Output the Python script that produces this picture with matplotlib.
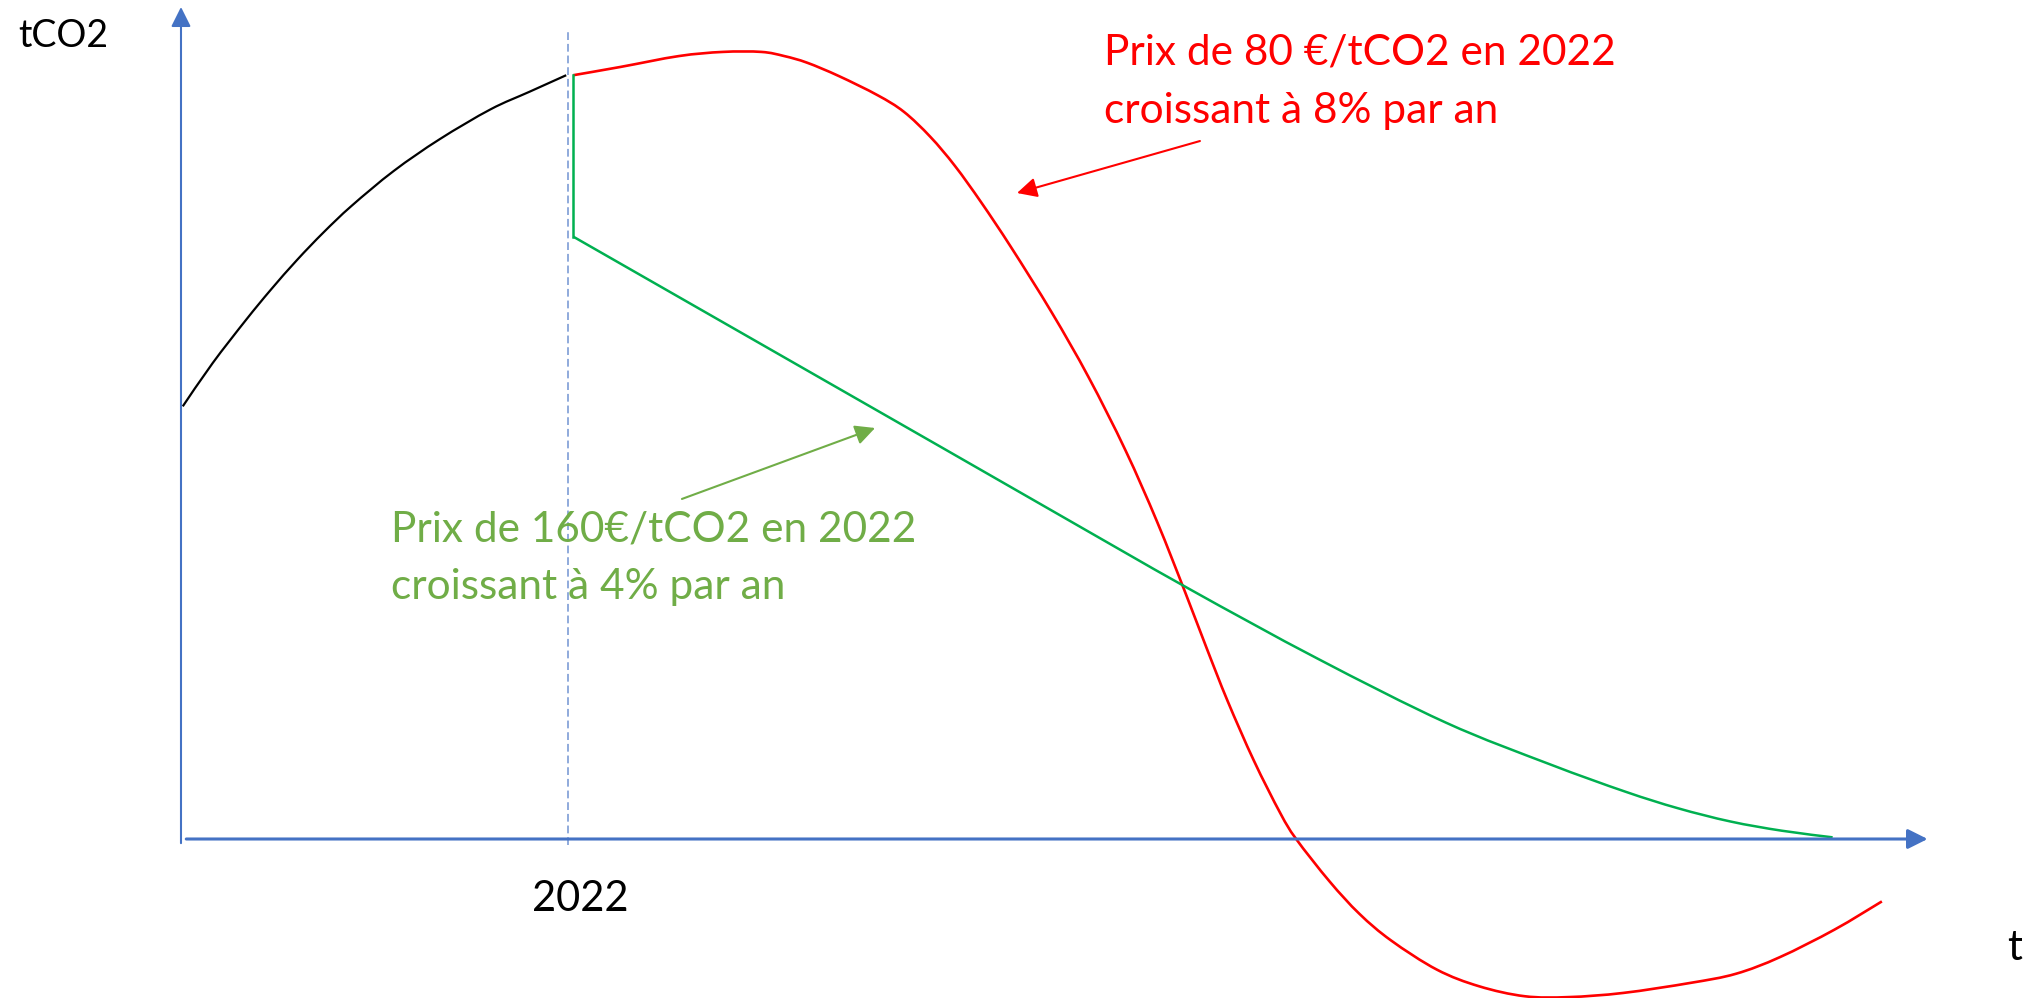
import matplotlib.pyplot as plt
from matplotlib.path import Path
from matplotlib.patches import PathPatch

plt.rcParams['font.family'] = ['Lato', 'DejaVu Sans']

# Emissions historiques jusqu'en 2022
hist_years = [2000.1, 2001.8, 2003.7, 2005.1, 2006.6, 2008.1, 2009.7, 2012.1,
              2014.7, 2017.6, 2019.8, 2021.9]
hist_co2 = [52.0, 57.2, 62.4, 66.0, 69.6, 72.9, 76.1, 80.3,
            84.1, 87.7, 89.8, 91.8]

# Scenario 80 EUR/tCO2, +8 %/an
red_years = [2022.3, 2025.0, 2028.3, 2030.8, 2033.0, 2034.3, 2035.6, 2037.4,
             2039.6, 2041.1, 2042.6, 2044.0, 2045.5, 2047.2, 2049.5, 2051.6,
             2053.7, 2055.5, 2057.1, 2058.3, 2059.5, 2061.0, 2062.5, 2063.4,
             2065.3, 2067.0, 2068.8, 2071.4, 2073.8, 2076.4, 2078.9, 2082.0,
             2085.8, 2088.4, 2090.9, 2094.0, 2096.7]
red_co2 = [91.8, 92.8, 94.1, 94.6, 94.6, 94.1, 93.3, 91.7,
           89.4, 87.4, 84.4, 80.9, 76.5, 71.1, 63.3, 55.5,
           46.7, 38.1, 29.6, 23.0, 16.6, 9.4, 3.1, 0.0,
           -5.1, -9.0, -12.2, -15.7, -17.7, -18.9, -19.0, -18.5,
           -17.3, -16.2, -14.2, -10.9, -7.5]

# Scenario 160 EUR/tCO2, +4 %/an (saut en 2022 puis baisse)
green_years = [2022.3, 2022.3, 2043.3, 2049.9, 2057.2, 2064.6, 2071.9, 2077.8,
               2082.1, 2085.1, 2088.1, 2091.0, 2093.9]
green_co2 = [91.8, 72.4, 47.0, 39.0, 30.2, 21.7, 14.0, 9.0,
             5.7, 3.7, 2.1, 1.0, 0.2]

year_ref = 2022
red_label = ["Prix de 80 €/tCO2 en 2022", "croissant à 8% par an"]
green_label = ["Prix de 160€/tCO2 en 2022", "croissant à 4% par an"]

AXIS_BLUE = '#4472C4'
RED = '#FF0000'
GREEN_LINE = '#00B050'
GREEN_TEXT = '#70AD47'


def smooth_path(xs, ys):
    # courbe lissee (Catmull-Rom -> Bezier cubique) passant par les points
    pts = list(zip(xs, ys))
    verts = [pts[0]]
    codes = [Path.MOVETO]
    for i in range(len(pts) - 1):
        p0 = pts[i - 1] if i > 0 else pts[i]
        p1, p2 = pts[i], pts[i + 1]
        p3 = pts[i + 2] if i + 2 < len(pts) else p2
        c1 = (p1[0] + (p2[0] - p0[0]) / 6, p1[1] + (p2[1] - p0[1]) / 6)
        c2 = (p2[0] - (p3[0] - p1[0]) / 6, p2[1] - (p3[1] - p1[1]) / 6)
        verts += [c1, c2, p2]
        codes += [Path.CURVE4] * 3
    return Path(verts, codes)


fig = plt.figure(figsize=(20.24, 9.98), dpi=100)
ax = fig.add_axes([0, 0, 1, 1])
ax.set_xlim(1989.71, 2104.78)
ax.set_ylim(-19.11, 100.84)
ax.axis('off')

head = '-|>,head_length=0.6,head_width=0.3'

# axes avec fleches
ax.annotate('', xy=(2000, 100.0), xytext=(2000, -0.5),
            arrowprops=dict(arrowstyle=head, color=AXIS_BLUE, lw=1.5,
                            shrinkA=0, shrinkB=0, mutation_scale=20))
ax.annotate('', xy=(2099.3, 0), xytext=(2000.3, 0),
            arrowprops=dict(arrowstyle=head, color=AXIS_BLUE, lw=2.2,
                            shrinkA=0, shrinkB=0, mutation_scale=20))

# repere 2022
ax.plot([year_ref, year_ref], [-0.7, 97.1], color='#8FAADC', lw=1.4,
        linestyle=(0, (4, 2)))

ax.add_patch(PathPatch(smooth_path(hist_years, hist_co2), facecolor='none',
                       edgecolor='black', lw=1.6))
ax.add_patch(PathPatch(smooth_path(red_years, red_co2), facecolor='none',
                       edgecolor=RED, lw=1.9, clip_on=False))
ax.plot(green_years[:2], green_co2[:2], color=GREEN_LINE, lw=1.8)
ax.add_patch(PathPatch(smooth_path(green_years[1:], green_co2[1:]),
                       facecolor='none', edgecolor=GREEN_LINE, lw=1.8))

# libelles
ax.text(1990.73, 95.19, 'tCO2', fontsize=27, va='baseline', ha='left')
ax.text(2022.7, -8.65, str(year_ref), fontsize=30, va='baseline', ha='center')
ax.text(2103.8, -14.5, 't', fontsize=30, va='baseline', ha='left')

ax.text(2052.47, 93.03, red_label[0], fontsize=30.5, color=RED, va='baseline')
ax.text(2052.47, 86.06, red_label[1], fontsize=30.5, color=RED, va='baseline')
ax.annotate('', xy=(2047.53, 77.64), xytext=(2057.93, 83.89),
            arrowprops=dict(arrowstyle=head, color=RED, lw=1.5,
                            shrinkA=0, shrinkB=0, mutation_scale=20))

ax.text(2011.94, 35.75, green_label[0], fontsize=30.5, color=GREEN_TEXT, va='baseline')
ax.text(2011.94, 28.9, green_label[1], fontsize=30.5, color=GREEN_TEXT, va='baseline')
ax.annotate('', xy=(2039.46, 49.40), xytext=(2028.48, 40.87),
            arrowprops=dict(arrowstyle=head, color=GREEN_TEXT, lw=1.5,
                            shrinkA=0, shrinkB=0, mutation_scale=20))

fig.savefig('out.png', dpi=100)
